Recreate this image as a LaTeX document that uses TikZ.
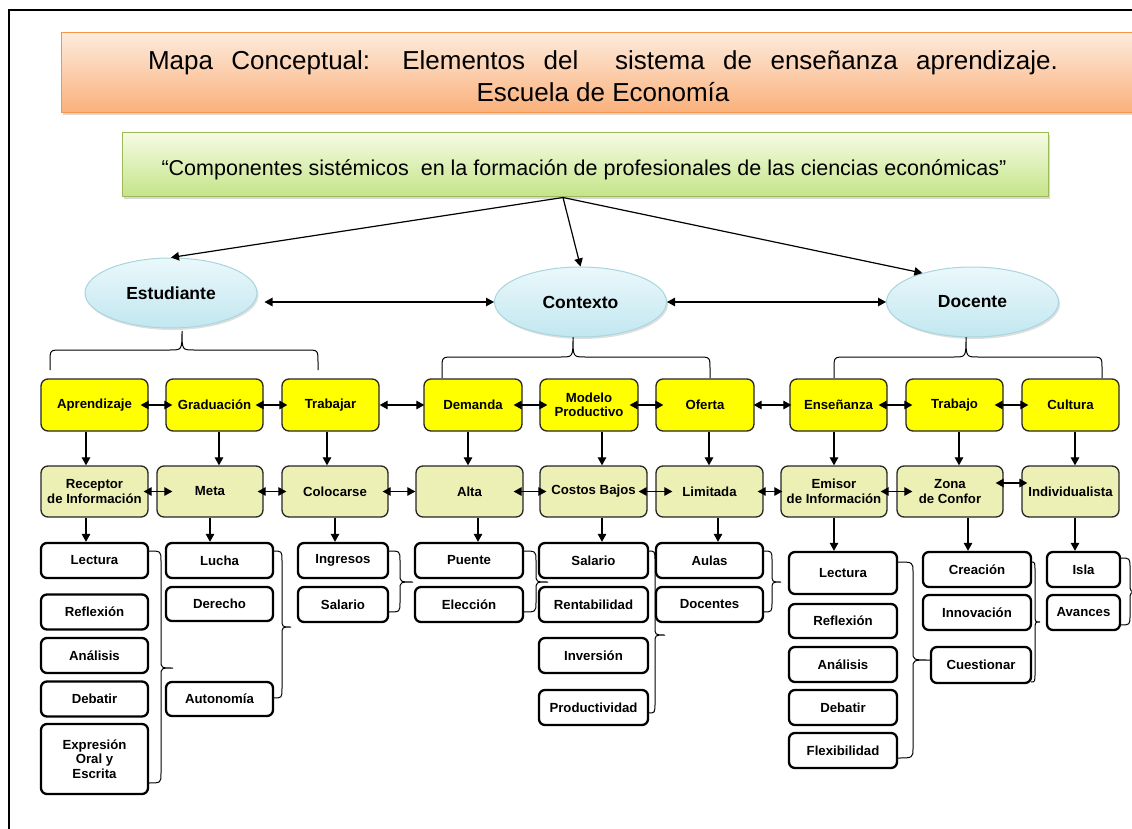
\documentclass[tikz,border=0pt]{standalone}
\usepackage{fontspec}
\setmainfont{Liberation Sans}
\usetikzlibrary{arrows.meta,shadows,shapes.geometric}
\definecolor{orTop}{HTML}{FDEBDD}
\definecolor{orBot}{HTML}{FAB07A}
\definecolor{orLine}{HTML}{F79646}
\definecolor{grTop}{HTML}{F5FBE3}
\definecolor{grBot}{HTML}{C4E488}
\definecolor{grLine}{HTML}{9BBB59}
\definecolor{elTop}{HTML}{EAF8FB}
\definecolor{elBot}{HTML}{C2E7F0}
\definecolor{elLine}{HTML}{A9D5DE}
\definecolor{yel}{HTML}{FFFF00}
\definecolor{oliv}{HTML}{EDF0B4}
\newcommand\myboxfont{\fontsize{13.2}{14.5}\selectfont\bfseries}
\newcommand\mysidebrace[6]{%
  \draw[brc] (#1,#4) .. controls (#2,#4) .. (#2,{#4+10}) -- (#2,{#5-8})
    .. controls (#2,#5) .. (#3,#5) .. controls (#2,#5) .. (#2,{#5+8})
    -- (#2,{#6-10}) .. controls (#2,#6) .. (#1,#6);}
\newcommand\mytopbrace[6]{%
  \draw[brc] (#1,#6) -- (#1,{#5+12}) .. controls (#1,#5) .. ({#1+12},#5)
    -- ({#3-12},#5) .. controls (#3,#5) .. (#3,#4)
    .. controls (#3,#5) .. ({#3+12},#5) -- ({#2-12},#5)
    .. controls (#2,#5) .. (#2,{#5+12}) -- (#2,#6);}
\newcommand\myvdown[3]{\coordinate (tmpx) at (#3,0);
  \draw[arr] (#1.south -| tmpx) -- (#2.north -| tmpx);}
% double arrow between two nodes, extended into them by #3 and #4
\newcommand\myhdbl[4]{\draw[darr, shorten <=#3pt, shorten >=#4pt] (#1.east) -- (#2.west);}
\begin{document}
\begin{tikzpicture}[x=1pt,y=-1pt,
  tip/.tip={Triangle[length=8pt,width=8.5pt]},
  arr/.style={-tip, line width=1.2pt},
  darr/.style={tip-tip, line width=1.2pt},
  brc/.style={line width=1pt, black},
  yb/.style={draw=black!85, line width=1.3pt, fill=yel, rounded corners=7pt,
    minimum height=52pt, minimum width=97pt, inner sep=1pt, font=\myboxfont, align=center},
  gb/.style={yb, fill=oliv, minimum height=51pt},
  wb/.style={draw=black, line width=2.3pt, fill=white, rounded corners=6pt,
    minimum height=35pt, minimum width=107pt, inner sep=1pt, font=\myboxfont, align=center},
  ell/.style={ellipse, draw=elLine, line width=1pt, top color=elTop, bottom color=elBot,
    minimum width=172pt, minimum height=70pt, font=\fontsize{17.5}{20}\selectfont\bfseries,
    drop shadow={shadow xshift=1.5pt, shadow yshift=-2pt, opacity=0.25}},
  ttl/.style={draw=orLine, line width=1pt, top color=orTop, bottom color=orBot,
    minimum width=1079pt, minimum height=80pt,
    drop shadow={shadow xshift=2pt, shadow yshift=-2pt, opacity=0.3}},
  sbt/.style={draw=grLine, line width=1pt, top color=grTop, bottom color=grBot,
    minimum width=926pt, minimum height=64pt,
    drop shadow={shadow xshift=2pt, shadow yshift=-2pt, opacity=0.3}}
]
\useasboundingbox (0,0) rectangle (1132,829);
\fill[white] (0,0) rectangle (1132,829);
% frame
\draw[line width=1.5pt] (1132,10) -- (9,10) -- (9,829);
% title
\node[ttl] (title) at (600.5,73) {};
\node[font=\fontsize{26}{32}\selectfont, align=center] (ttltext) at (603,76)
  {\makebox[910pt][s]{Mapa Conceptual: Elementos del\ \ sistema de enseñanza aprendizaje.}\\Escuela de Economía};
% subtitle
\node[sbt] (sub) at (585,165) {};
\node[font=\fontsize{21.5}{24}\selectfont] (subtext) at (584,170)
  {“Componentes sistémicos\ \ en la formación de profesionales de las ciencias económicas”};
% ellipses
\node[ell] (est) at (171,293) {Estudiante};
\node[ell] (ctx) at (580.5,302) {Contexto};
\node[ell] (doc) at (972.5,302) {Docente};
\coordinate (gsrc) at ([xshift=-22pt]sub.south);
\draw[arr] (gsrc) -- (est.north);
\draw[arr] (gsrc) -- (ctx.north);
\draw[arr] (gsrc) -- (doc.150);
\draw[darr, shorten <=7pt] ([yshift=-9pt]est.east) -- (ctx.west);
\draw[darr] (ctx.east) -- (doc.west);
% top braces
\mytopbrace{50}{318}{182}{331}{350}{370}
\mytopbrace{442}{710}{573}{337}{357}{378}
\mytopbrace{834}{1102}{966}{337}{357}{378}
% row 1
\node[yb, minimum width=107pt] (apr) at (94.5,405) {Aprendizaje};
\node[yb] (gra) at (214.5,405) {Graduación};
\node[yb] (tra) at (330.5,405) {Trabajar};
\node[yb, minimum width=98pt] (dem) at (473,405) {Demanda};
\node[yb, minimum width=98pt] (mod) at (589,405) {Modelo\\Productivo};
\node[yb, minimum width=98pt] (ofe) at (705,405) {Oferta};
\node[yb] (ens) at (838.5,405) {Enseñanza};
\node[yb] (trb) at (954.5,405) {Trabajo};
\node[yb] (cul) at (1070.5,405) {Cultura};
% row 2
\node[gb, minimum width=107pt] (rec) at (94.5,491.5) {Receptor\\de Información};
\node[gb, minimum width=106pt] (met) at (210,491.5) {Meta};
\node[gb, minimum width=106pt] (col) at (335,491.5) {Colocarse};
\node[gb, minimum width=107pt] (alt) at (469.5,491.5) {Alta};
\node[gb, minimum width=107pt] (cos) at (593.5,491.5) {Costos Bajos};
\node[gb, minimum width=107pt] (lim) at (709.5,491.5) {Limitada};
\node[gb, minimum width=106pt] (emi) at (834,491.5) {Emisor\\de Información};
\node[gb, minimum width=106pt] (zon) at (950,491.5) {Zona\\de Confor};
\node[gb, minimum width=97pt] (ind) at (1070.5,491.5) {Individualista};
% row 3
\node[wb] (lec1) at (94.5,560.5) {Lectura};
\node[wb] (ref1) at (94.5,612) {Reflexión};
\node[wb] (ana1) at (94.5,655.5) {Análisis};
\node[wb] (deb1) at (94.5,699) {Debatir};
\node[wb, minimum height=70pt] (exp1) at (94.5,759) {Expresión\\Oral y\\Escrita};
\node[wb] (luc) at (219.5,560.5) {Lucha};
\node[wb, minimum height=34pt] (der) at (219.5,604) {Derecho};
\node[wb, minimum height=34pt] (aut) at (219.5,699) {Autonomía};
\node[wb, minimum width=90pt] (ing) at (343,560.5) {Ingresos};
\node[wb, minimum width=90pt] (sal1) at (343,604.5) {Salario};
\node[wb, minimum width=108pt] (pue) at (469,560.5) {Puente};
\node[wb, minimum width=108pt] (ele) at (469,604.5) {Elección};
\node[wb, minimum width=109pt] (sal2) at (593.5,560.5) {Salario};
\node[wb, minimum width=109pt] (ren) at (593.5,604.5) {Rentabilidad};
\node[wb, minimum width=109pt] (inv) at (593.5,655.5) {Inversión};
\node[wb, minimum width=109pt] (pro) at (593.5,707.5) {Productividad};
\node[wb] (aul) at (709.5,560.5) {Aulas};
\node[wb] (dcs) at (709.5,604.5) {Docentes};
\node[wb, minimum width=108pt, minimum height=42pt] (lec2) at (843,573) {Lectura};
\node[wb, minimum width=108pt, minimum height=34pt] (ref2) at (843,621) {Reflexión};
\node[wb, minimum width=108pt] (ana2) at (843,664.5) {Análisis};
\node[wb, minimum width=108pt] (deb2) at (843,707.5) {Debatir};
\node[wb, minimum width=108pt] (fle) at (843,750.5) {Flexibilidad};
\node[wb, minimum width=108pt] (cre) at (977,569.5) {Creación};
\node[wb, minimum width=108pt] (inn) at (977,612.5) {Innovación};
\node[wb, minimum width=100pt, minimum height=36pt] (cue) at (981,665) {Cuestionar};
\node[wb, minimum width=73pt] (isl) at (1083.5,569.5) {Isla};
\node[wb, minimum width=73pt] (ava) at (1083.5,612.5) {Avances};
% vertical arrows row1 -> row2
\myvdown{apr}{rec}{86}
\myvdown{gra}{met}{219}
\myvdown{tra}{col}{327}
\myvdown{dem}{alt}{468}
\myvdown{mod}{cos}{602}
\myvdown{ofe}{lim}{709}
\myvdown{ens}{emi}{834}
\myvdown{trb}{zon}{959}
\myvdown{cul}{ind}{1075}
% vertical arrows row2 -> row3
\myvdown{rec}{lec1}{86}
\myvdown{met}{luc}{210}
\myvdown{col}{ing}{335}
\myvdown{alt}{pue}{478}
\myvdown{cos}{sal2}{602}
\myvdown{lim}{aul}{718}
\myvdown{emi}{lec2}{834}
\myvdown{zon}{cre}{968}
\myvdown{ind}{isl}{1075}
% horizontal double arrows, row 1
\myhdbl{apr}{gra}{-8}{-7}
\myhdbl{gra}{tra}{-8}{-6}
\myhdbl{tra}{dem}{0}{-1}
\myhdbl{dem}{mod}{-9}{-8}
\myhdbl{mod}{ofe}{-9}{-8}
\myhdbl{ofe}{ens}{-1}{-2}
\myhdbl{ens}{trb}{-9}{-7}
\myhdbl{trb}{cul}{-9}{-7}
% row 2
\myhdbl{rec}{met}{-5}{-16}
\myhdbl{met}{col}{-6}{-5}
\myhdbl{col}{alt}{-6}{0}
\myhdbl{alt}{cos}{-10}{-7}
\myhdbl{cos}{lim}{-9}{-17}
\myhdbl{lim}{emi}{-6}{-2}
\myhdbl{emi}{zon}{-7}{-16}
\draw[darr, shorten <=-8pt, shorten >=-6pt] ([yshift=8.5pt]zon.east) -- ([yshift=8.5pt]ind.west);
% side braces
\mysidebrace{148}{161}{173}{551}{668}{783}
\mysidebrace{273}{282}{291}{551}{627}{698}
\mysidebrace{388}{400}{413}{551}{582}{612}
\mysidebrace{523}{536}{548}{551}{582}{612}
\mysidebrace{648}{655}{665}{551}{635}{713}
\mysidebrace{763}{772}{781}{551}{582}{612}
\mysidebrace{897}{913}{930}{562}{660}{758}
\mysidebrace{1031}{1035}{1040}{562}{622}{682}
\mysidebrace{1120}{1130}{1140}{558}{592}{625}
\end{tikzpicture}
\end{document}
